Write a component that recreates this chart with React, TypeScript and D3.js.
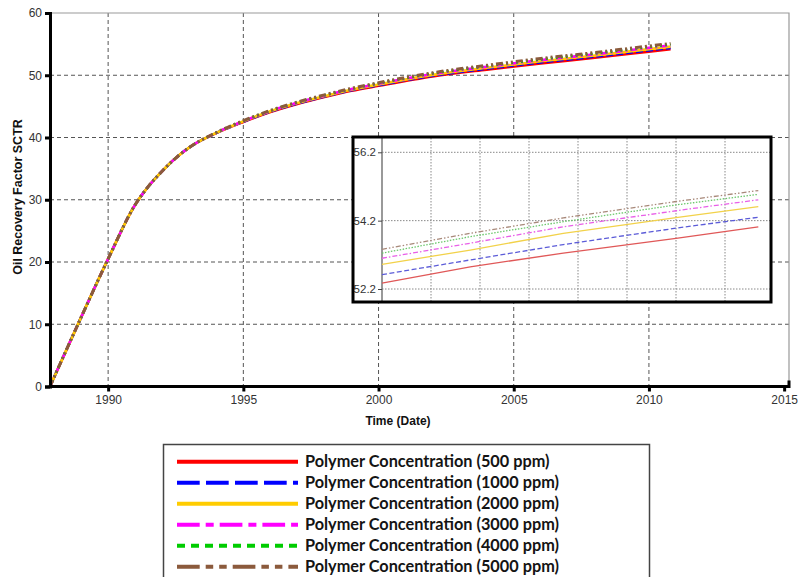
import React, { useEffect, useRef } from 'react';
import * as d3 from 'd3';

// Main chart data (years as decimal dates)
const years = [1987.85, 1989, 1990, 1991, 1991.5, 1992, 1992.5, 1993, 1994, 1995, 1996, 1997, 1998, 1999, 2000, 2002, 2004, 2006, 2008, 2010, 2010.8];
const ppm500 = [0, 11.1, 20.5, 29.2, 32.2, 34.6, 36.7, 38.4, 40.7, 42.5, 44.1, 45.4, 46.5, 47.5, 48.3, 49.8, 50.9, 51.9, 52.8, 53.8, 54.2];
const ppm1000 = [0, 11.1, 20.5, 29.2, 32.2, 34.6, 36.7, 38.4, 40.72, 42.54, 44.15, 45.47, 46.58, 47.59, 48.41, 49.93, 51.05, 52.07, 52.99, 54.0, 54.4];
const ppm2000 = [0, 11.1, 20.5, 29.2, 32.2, 34.6, 36.7, 38.4, 40.74, 42.59, 44.21, 45.53, 46.65, 47.68, 48.52, 50.06, 51.21, 52.24, 53.17, 54.2, 54.6];
const ppm3000 = [0, 11.1, 20.5, 29.2, 32.2, 34.6, 36.7, 38.4, 40.77, 42.63, 44.27, 45.6, 46.73, 47.77, 48.63, 50.2, 51.37, 52.42, 53.37, 54.4, 54.8];
const ppm4000 = [0, 11.1, 20.5, 29.2, 32.2, 34.6, 36.7, 38.4, 40.78, 42.67, 44.31, 45.65, 46.79, 47.83, 48.72, 50.3, 51.48, 52.55, 53.5, 54.55, 54.95];
const ppm5000 = [0, 11.1, 20.5, 29.2, 32.2, 34.6, 36.7, 38.4, 40.8, 42.7, 44.35, 45.7, 46.85, 47.9, 48.8, 50.4, 51.6, 52.7, 53.65, 54.7, 55.1];

// Inset (zoomed late period)
const insetYears = [2003, 2004.8, 2006.7, 2009, 2010.68];
const inset500 = [52.37, 52.85, 53.25, 53.68, 54.02];
const inset1000 = [52.62, 53.05, 53.5, 53.98, 54.3];
const inset2000 = [52.92, 53.34, 53.83, 54.29, 54.61];
const inset3000 = [53.1, 53.54, 54.02, 54.49, 54.81];
const inset4000 = [53.25, 53.73, 54.17, 54.66, 54.97];
const inset5000 = [53.36, 53.83, 54.28, 54.76, 55.08];

const seriesNames = [
  'Polymer Concentration (500 ppm)',
  'Polymer Concentration (1000 ppm)',
  'Polymer Concentration (2000 ppm)',
  'Polymer Concentration (3000 ppm)',
  'Polymer Concentration (4000 ppm)',
  'Polymer Concentration (5000 ppm)',
];
const xTicks = [1990, 1995, 2000, 2005, 2010, 2015];
const yTicks = [0, 10, 20, 30, 40, 50, 60];
const insetTicks = [52.2, 54.2, 56.2];
const insetGridYears = [2004, 2005, 2006, 2007, 2008, 2009, 2010];

const mainData = [ppm500, ppm1000, ppm2000, ppm3000, ppm4000, ppm5000];
const insetData = [inset500, inset1000, inset2000, inset3000, inset4000, inset5000];

// styles per series
const colors = ['#ff0000', '#0000ff', '#ffcc00', '#ff00ff', '#00cc00', '#8b5a3c'];
const insetColors = ['#e05858', '#5c5cd8', '#f2d24a', '#e860e8', '#6cc86c', '#a8897a'];
const mainDash = [null, '7,3', null, '7,3,2,3', '2,3', '7,3,2,3,2,3'];
const insetDash = [null, '5,2.5', null, '5,2,1.5,2', '1.5,1.5', '5,2,1.5,2,1.5,2'];
const legendDash = [null, '22.7,6.3', null, '22.7,6,8,6', '8,6', '22.7,6,7.5,6,7.5,6'];

const App = () => {
  const ref = useRef<SVGSVGElement>(null);

  useEffect(() => {
    const svg = d3.select(ref.current);
    svg.selectAll('*').remove();

    const font = 'Liberation Sans, Arial, sans-serif';
    const x = d3.scaleLinear().domain([1987.85, 2015.18]).range([50, 789]);
    const y = d3.scaleLinear().domain([0, 60]).range([386.5, 13]);

    // grid
    const grid = svg.append('g').attr('stroke', '#555').attr('stroke-width', 1).attr('stroke-dasharray', '4,3');
    grid.selectAll('.gx').data(xTicks.filter((t) => t < 2015)).enter().append('line')
      .attr('x1', (d) => x(d)).attr('x2', (d) => x(d)).attr('y1', y(60)).attr('y2', y(0));
    grid.selectAll('.gy').data(yTicks.filter((t) => t > 0 && t < 60)).enter().append('line')
      .attr('x1', x.range()[0]).attr('x2', x.range()[1]).attr('y1', (d) => y(d)).attr('y2', (d) => y(d));

    // top / right frame
    svg.append('path')
      .attr('d', `M${x.range()[0]},${y(60)}H${x.range()[1]}V${y(0)}`)
      .attr('fill', 'none').attr('stroke', '#999').attr('stroke-width', 1.2);

    // series
    const line = d3.line<number>()
      .x((_, i) => x(years[i]))
      .y((d) => y(d))
      .curve(d3.curveMonotoneX);
    mainData.forEach((vals, i) => {
      svg.append('path')
        .attr('d', line(vals))
        .attr('fill', 'none')
        .attr('stroke', colors[i])
        .attr('stroke-width', i === 5 ? 3 : 2.6)
        .attr('stroke-dasharray', mainDash[i]);
    });

    // axes
    const yAxis = svg.append('g').attr('transform', `translate(${x.range()[0]},0)`)
      .call(d3.axisLeft(y).tickValues(yTicks).tickSize(5).tickPadding(3).tickFormat(d3.format('d')));
    const xAxis = svg.append('g').attr('transform', `translate(0,${y(0)})`)
      .call(d3.axisBottom(x).tickValues(xTicks).tickSize(5).tickPadding(4).tickFormat(d3.format('d')));
    [xAxis, yAxis].forEach((ax) => {
      ax.select('.domain').attr('stroke', '#000').attr('stroke-width', 3);
      ax.selectAll('.tick line').attr('stroke', '#000').attr('stroke-width', 3);
      ax.selectAll('.tick text').attr('fill', '#333').style('font', `12px ${font}`);
    });
    xAxis.select('.domain').attr('d', `M${x.range()[0]},0H${x.range()[1]}V-6`);

    svg.append('text')
      .attr('x', 398).attr('y', 425).attr('text-anchor', 'middle')
      .style('font', `bold 12px ${font}`).attr('fill', '#111')
      .text('Time (Date)');
    svg.append('text')
      .attr('transform', 'translate(22,197) rotate(-90)').attr('text-anchor', 'middle')
      .style('font', `bold 12.5px ${font}`).attr('fill', '#111')
      .text('Oil Recovery Factor SCTR');

    // inset
    const ix = d3.scaleLinear().domain([2003, 2011]).range([382, 774]);
    const iy = d3.scaleLinear().domain([52.2, 56.2]).range([289, 152.3]);
    const inset = svg.append('g');
    inset.append('rect').attr('x', 353).attr('y', 137).attr('width', 418).attr('height', 165)
      .attr('fill', '#fff');
    const ig = inset.append('g').attr('stroke', '#888').attr('stroke-width', 1).attr('stroke-dasharray', '1.5,1.5');
    ig.selectAll('.ivx').data(insetGridYears).enter().append('line')
      .attr('x1', (d) => ix(d)).attr('x2', (d) => ix(d)).attr('y1', 138).attr('y2', 301);
    ig.selectAll('.ivy').data(insetTicks).enter().append('line')
      .attr('x1', ix(2003)).attr('x2', 770).attr('y1', (d) => iy(d)).attr('y2', (d) => iy(d));
    const iAxis = inset.append('g').attr('transform', `translate(${ix(2003)},0)`)
      .call(d3.axisLeft(iy).tickValues(insetTicks).tickSize(4).tickPadding(2).tickFormat(d3.format('.1f')));
    iAxis.select('.domain').attr('d', 'M0,138V301').attr('stroke', '#777').attr('stroke-width', 1.5);
    iAxis.selectAll('.tick line').attr('stroke', '#444');
    iAxis.selectAll('.tick text').attr('fill', '#333').style('font', `11.5px ${font}`);

    const iline = d3.line<number>()
      .x((_, i) => ix(insetYears[i]))
      .y((d) => iy(d));
    insetData.forEach((vals, i) => {
      inset.append('path')
        .attr('d', iline(vals))
        .attr('fill', 'none')
        .attr('stroke', insetColors[i])
        .attr('stroke-width', 1.3)
        .attr('stroke-dasharray', insetDash[i]);
    });
    inset.append('rect').attr('x', 353).attr('y', 137).attr('width', 418).attr('height', 165)
      .attr('fill', 'none').attr('stroke', '#000').attr('stroke-width', 3);

    // legend
    const legend = svg.append('g');
    legend.append('rect').attr('x', 163.5).attr('y', 444.5).attr('width', 486).attr('height', 140)
      .attr('fill', '#fff').attr('stroke', '#444').attr('stroke-width', 1.5);
    const rows = legend.selectAll('.row').data(seriesNames).enter().append('g')
      .attr('transform', (_, i) => `translate(0,${461.7 + i * 21})`);
    rows.append('line')
      .attr('x1', 177).attr('x2', 298).attr('y1', 0).attr('y2', 0)
      .attr('stroke', (_, i) => colors[i])
      .attr('stroke-width', 4)
      .attr('stroke-dasharray', (_, i) => legendDash[i]);
    rows.append('text')
      .attr('x', 305).attr('y', 5.5)
      .style('font', 'bold 16.3px Lato, "Open Sans", sans-serif')
      .attr('fill', '#141414')
      .text((d) => d);
  }, []);

  return (
    <svg ref={ref} width={798} height={577}
      style={{ position: 'absolute', left: 0, top: 0, background: '#fff' }} />
  );
};

export default App;
